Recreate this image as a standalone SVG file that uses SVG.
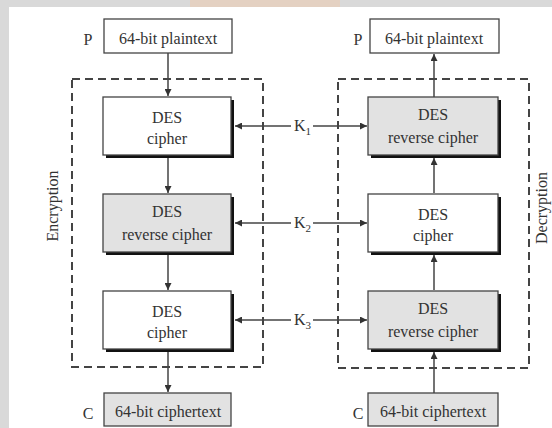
<svg xmlns="http://www.w3.org/2000/svg" width="552" height="428" viewBox="0 0 552 428">
<style>
text{font-family:"Liberation Serif","Times New Roman",serif;fill:#333;font-size:16px}
.c{text-anchor:middle}
.box{stroke:#444;stroke-width:1.3}
.w{fill:#fff}
.g{fill:#e2e2e2}
.sh{fill:#111}
.dash{fill:none;stroke:#444;stroke-width:2;stroke-dasharray:8 5}
.ln{stroke:#444;stroke-width:1.5;fill:none}
.lbl{font-size:16px}
</style>
<defs>
<marker id="ah" viewBox="0 0 10 10" refX="10" refY="5" markerWidth="7" markerHeight="7" orient="auto-start-reverse" markerUnits="userSpaceOnUse">
<path d="M0,0 L10,5 L0,10 z" fill="#333"/>
</marker>
</defs>
<rect x="0" y="0" width="552" height="428" fill="#fff"/>
<rect x="0" y="0" width="552" height="7" fill="#d9d9d9"/>
<rect x="0" y="0" width="9" height="428" fill="#d9d9d9"/>
<rect x="190" y="0" width="150" height="7" fill="#e8cdb8" opacity="0.7"/>

<g id="enc-frame">
<rect class="dash" x="72" y="79" width="191" height="288"/>
<text class="lbl c" transform="translate(58,206) rotate(-90)">Encryption</text>
</g>
<g id="dec-frame">
<rect class="dash" x="338" y="79" width="191" height="289"/>
<text class="lbl c" transform="translate(547,208) rotate(-90)">Decryption</text>
</g>

<g id="connectors">
<line class="ln" x1="168" y1="53" x2="168" y2="96" marker-end="url(#ah)"/>
<line class="ln" x1="168" y1="156" x2="168" y2="193" marker-end="url(#ah)"/>
<line class="ln" x1="168" y1="253" x2="168" y2="290" marker-end="url(#ah)"/>
<line class="ln" x1="168" y1="350" x2="168" y2="392" marker-end="url(#ah)"/>
<line class="ln" x1="434" y1="97" x2="434" y2="54" marker-end="url(#ah)"/>
<line class="ln" x1="434" y1="193" x2="434" y2="158" marker-end="url(#ah)"/>
<line class="ln" x1="434" y1="290" x2="434" y2="255" marker-end="url(#ah)"/>
<line class="ln" x1="434" y1="393" x2="434" y2="352" marker-end="url(#ah)"/>
<line class="ln" x1="235" y1="126" x2="367" y2="126" marker-start="url(#ah)" marker-end="url(#ah)"/>
<line class="ln" x1="235" y1="223" x2="367" y2="223" marker-start="url(#ah)" marker-end="url(#ah)"/>
<line class="ln" x1="235" y1="320" x2="367" y2="320" marker-start="url(#ah)" marker-end="url(#ah)"/>
<rect x="291" y="116" width="22" height="22" fill="#fff"/>
<rect x="291" y="213" width="22" height="22" fill="#fff"/>
<rect x="291" y="310" width="22" height="22" fill="#fff"/>
<text x="294" y="131" font-size="15">K<tspan font-size="11" dy="4">1</tspan></text>
<text x="294" y="228" font-size="15">K<tspan font-size="11" dy="4">2</tspan></text>
<text x="294" y="325" font-size="15">K<tspan font-size="11" dy="4">3</tspan></text>
</g>

<g id="enc-plaintext">
<text x="88" y="45" class="c">P</text>
<rect class="box w" x="104" y="19" width="128" height="34"/>
<text x="168" y="44" class="c">64-bit plaintext</text>
</g>
<g id="enc-des1">
<rect class="sh" x="106" y="100" width="128" height="58"/>
<rect class="box w" x="103" y="97" width="128" height="58"/>
<text x="167" y="123" class="c">DES</text>
<text x="167" y="144" class="c">cipher</text>
</g>
<g id="enc-des2">
<rect class="sh" x="106" y="197" width="128" height="58"/>
<rect class="box g" x="103" y="194" width="128" height="58"/>
<text x="167" y="217" class="c">DES</text>
<text x="167" y="240" class="c">reverse cipher</text>
</g>
<g id="enc-des3">
<rect class="sh" x="106" y="294" width="128" height="58"/>
<rect class="box w" x="103" y="291" width="128" height="58"/>
<text x="167" y="317" class="c">DES</text>
<text x="167" y="338" class="c">cipher</text>
</g>
<g id="enc-ciphertext">
<text x="88" y="419" class="c">C</text>
<rect class="box g" x="104" y="393" width="127" height="33"/>
<text x="168" y="417" class="c">64-bit ciphertext</text>
</g>

<g id="dec-plaintext">
<text x="358" y="45" class="c">P</text>
<rect class="box w" x="370" y="19" width="129" height="34"/>
<text x="434" y="44" class="c">64-bit plaintext</text>
</g>
<g id="dec-des1">
<rect class="sh" x="371" y="100" width="130" height="58"/>
<rect class="box g" x="368" y="97" width="130" height="58"/>
<text x="433" y="120" class="c">DES</text>
<text x="433" y="143" class="c">reverse cipher</text>
</g>
<g id="dec-des2">
<rect class="sh" x="371" y="197" width="130" height="58"/>
<rect class="box w" x="368" y="194" width="130" height="58"/>
<text x="433" y="220" class="c">DES</text>
<text x="433" y="241" class="c">cipher</text>
</g>
<g id="dec-des3">
<rect class="sh" x="371" y="294" width="130" height="58"/>
<rect class="box g" x="368" y="291" width="130" height="58"/>
<text x="433" y="314" class="c">DES</text>
<text x="433" y="337" class="c">reverse cipher</text>
</g>
<g id="dec-ciphertext">
<text x="358" y="419" class="c">C</text>
<rect class="box g" x="368" y="393" width="130" height="33"/>
<text x="433" y="417" class="c">64-bit ciphertext</text>
</g>
</svg>
